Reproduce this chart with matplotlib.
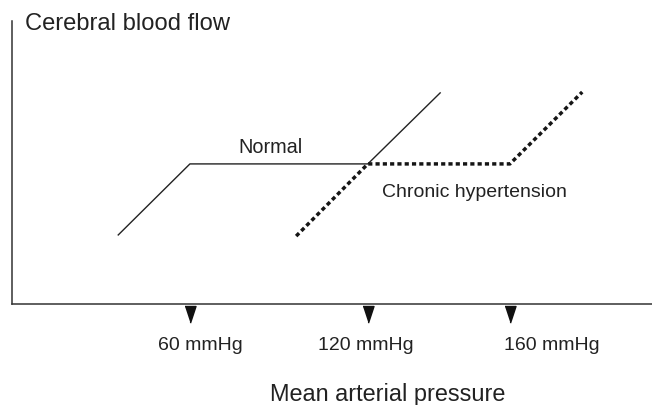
import matplotlib
matplotlib.use("Agg")
import matplotlib.pyplot as plt

plt.rcParams['font.family'] = ['Liberation Sans', 'DejaVu Sans']

# -------- DATA (schematic units, 0-100) --------
normal_x = [16.6, 27.8, 55.6, 66.9]
normal_y = [24.4, 49.5, 49.5, 74.6]

chronic_x = [44.4, 55.6, 77.8, 89.1]
chronic_y = [24.0, 49.5, 49.5, 74.9]

tick_pos = [27.8, 55.6, 77.8]
tick_labels = ["60 mmHg", "120 mmHg", "160 mmHg"]
label_left = [22.8, 47.8, 76.9]

# -------- PLOT --------
fig = plt.figure(figsize=(6.52, 4.06), dpi=100)
ax = fig.add_axes([12 / 652, 101 / 406, 640 / 652, 283 / 406])
ax.set_xlim(0, 100)
ax.set_ylim(0, 100)

ax.plot(normal_x, normal_y, color="#222222", lw=1.0)
ax.plot(chronic_x, chronic_y, color="#151515", lw=2.5,
        linestyle=(0, (1.2, 0.9)), dash_capstyle="butt")

# downward triangles under the axis
tri = [(-0.33, 0), (0.33, 0), (0, -1)]
for p in tick_pos:
    ax.plot([p], [-0.6], marker=tri, markersize=24, color="#111111",
            linestyle="none", clip_on=False)
for x, lab in zip(label_left, tick_labels):
    ax.text(x, -15.9, lab, ha="left", va="baseline", fontsize=14,
            color="#222222")

ax.text(35.3, 53.7, "Normal", ha="left", va="baseline", fontsize=14.3,
        color="#222222")
ax.text(57.8, 38.2, "Chronic hypertension", ha="left", va="baseline",
        fontsize=14, color="#222222")

fig.text(25 / 652, 1 - 30 / 406, "Cerebral blood flow", ha="left",
         va="baseline", fontsize=17.1, color="#222222")
fig.text(270 / 652, 1 - 401 / 406, "Mean arterial pressure", ha="left",
         va="baseline", fontsize=16.9, color="#222222")

for s in ["top", "right"]:
    ax.spines[s].set_visible(False)
for s in ["left", "bottom"]:
    ax.spines[s].set_color("#333333")
    ax.spines[s].set_linewidth(1.1)
ax.set_xticks([])
ax.set_yticks([])

fig.savefig("out.png", dpi=100)
